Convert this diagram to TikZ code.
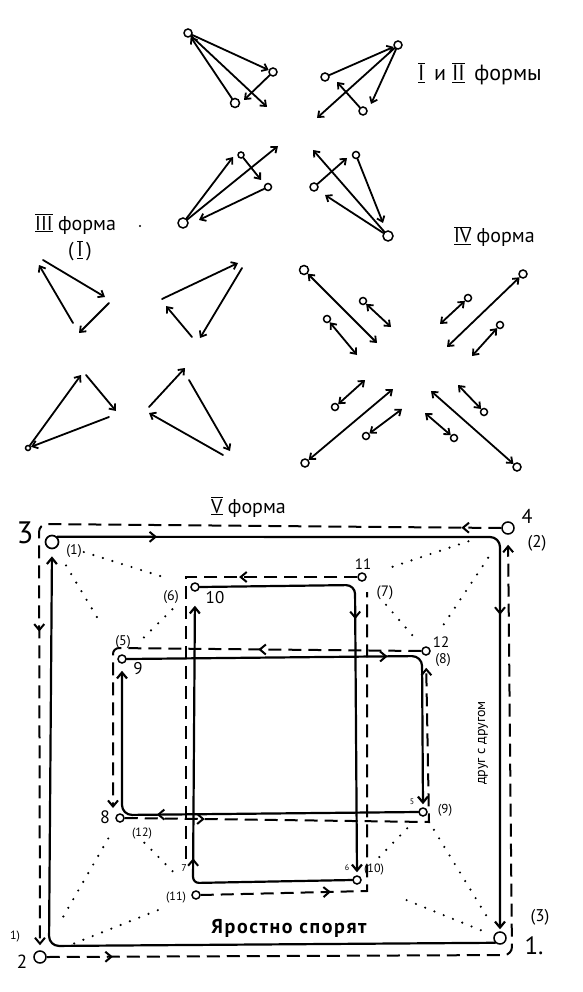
\documentclass[tikz,border=0pt]{standalone}
\usepackage{fontspec}
\setmainfont{PT Sans}
\usetikzlibrary{arrows.meta,decorations.markings}
\newcommand{\fs}[1]{\fontsize{#1}{#1}\selectfont}
\newcommand{\rnum}[1]{$\overline{\underline{\mbox{#1}}}$}
\begin{document}
\begin{tikzpicture}[x=1pt,y=-1pt,
  >={Straight Barb[length=5pt,width=8pt]},
  ta/.style={line width=1.8pt,line cap=round,line join=round},
  sl/.style={line width=2.2pt,line cap=round,line join=round,>={Straight Barb[length=6pt,width=10pt]}},
  dl/.style={line width=2pt,dash pattern=on 13pt off 7pt,>={Straight Barb[length=6pt,width=10pt]}},
  dotl/.style={line width=2.4pt,line cap=round,dash pattern=on 0pt off 10pt},
  pc/.style={circle,draw,line width=1.5pt,inner sep=0pt,minimum size=#1,fill=white},
  pc/.default=8pt,
  midarr/.style={postaction={decorate,decoration={markings,mark=at position #1 with {\arrow[line width=2pt]{Straight Barb[length=6pt,width=10pt]}}}}},
  lab/.style={inner sep=0pt}
]
\useasboundingbox (0,0) rectangle (582,992);

% ---------- Forms I and II ----------
\node[pc=8pt] (fA) at (188,33) {};
\node[pc=8pt] (fB) at (273,72) {};
\node[pc=9pt] (fC) at (235,103) {};
\node[pc=8pt] (fD) at (325,77) {};
\node[pc=8pt] (fE) at (398,45) {};
\node[pc=8pt] (fF) at (363,111) {};
\coordinate (a1) at (267,107);
\coordinate (a2) at (244,100);
\coordinate (a3) at (317,118);
\coordinate (a4) at (371,104);
\coordinate (a5) at (337,82);
\draw[ta,->] (fA) -- (fB);
\draw[ta,->] (fA) -- (a1);
\draw[ta,->] (fC) -- (fA);
\draw[ta,->] (fB) -- (a2);
\draw[ta,->] (fD) -- (fE);
\draw[ta,->] (fE) -- (a3);
\draw[ta,->] (fE) -- (a4);
\draw[ta,->] (fF) -- (a5);

\node[pc=10pt] (fG) at (183,223) {};
\node[pc=6pt] (fH) at (241,155) {};
\node[pc=7pt] (fJ) at (268,187) {};
\node[pc=8pt] (fK) at (314,187) {};
\node[pc=7pt] (fL) at (356,155) {};
\node[pc=10pt] (fM) at (388,236) {};
\coordinate (b1) at (233,157);
\coordinate (b2) at (278,146);
\coordinate (b3) at (199,220);
\coordinate (b4) at (347,158);
\coordinate (b5) at (313,150);
\coordinate (b6) at (383,223);
\coordinate (b7) at (325,195);
\coordinate (b8) at (261,180);
\draw[ta,->] (fG) -- (b1);
\draw[ta,->] (fG) -- (b2);
\draw[ta,->] (fJ) -- (b3);
\draw[ta,->] (fH) -- (b8);
\draw[ta,->] (fK) -- (b4);
\draw[ta,->] (fM) -- (b5);
\draw[ta,->] (fL) -- (b6);
\draw[ta,->] (fM) -- (b7);

\node[lab,anchor=west] (t12) at (418,74) {\fs{22}\rnum{I}\, и \rnum{II}\, формы};

% ---------- Form III ----------
\node[lab,anchor=west] (t3) at (35,224) {\fs{20}\rnum{III} форма};
\node[lab] (t3b) at (80,251) {\fs{20}(\,\rnum{I}\,)};
\fill (140,226) circle (1.2pt);

\draw[ta,->] (43,260) -- (105,297);
\draw[ta,->] (109,303) -- (79,333);
\draw[ta,->] (73,323) -- (39,265);

\draw[ta,->] (162,299) -- (238,263);
\draw[ta,->] (242,268) -- (200,338);
\draw[ta,->] (192,337) -- (166,306);

\node[pc=5pt] (q1) at (28,448) {};
\draw[ta,->] (q1) -- (81,375);
\draw[ta,->] (86,375) -- (116,411);
\draw[ta,->] (109,417) -- (q1);

\draw[ta,->] (149,407) -- (185,368);
\draw[ta,->] (189,380) -- (230,451);
\draw[ta,->] (223,455) -- (149,413);

% ---------- Form IV ----------
\node[lab,anchor=west] (t4) at (454,237) {\fs{20}\rnum{IV} форма};

\node[pc=9pt] (p1) at (304,270) {};
\draw[ta,<->] (p1) -- (377,343);
\node[pc=7pt] (p2) at (363,301) {};
\draw[ta,<->] (p2) -- (391,327);
\node[pc=7pt] (p3) at (327,319) {};
\draw[ta,<->] (p3) -- (357,355);

\node[pc=8pt] (p4) at (523,274) {};
\draw[ta,<->] (p4) -- (447,347);
\node[pc=7pt] (p5) at (468,298) {};
\draw[ta,<->] (p5) -- (440,324);
\node[pc=7pt] (p6) at (500,325) {};
\draw[ta,<->] (p6) -- (472,356);

\node[pc=8pt] (p7) at (305,463) {};
\draw[ta,<->] (p7) -- (393,389);
\node[pc=7pt] (p8) at (335,407) {};
\draw[ta,<->] (p8) -- (365,380);
\node[pc=7pt] (p9) at (366,436) {};
\draw[ta,<->] (p9) -- (402,409);

\node[pc=8pt] (p10) at (517,467) {};
\draw[ta,<->] (p10) -- (431,391);
\node[pc=7pt] (p11) at (484,412) {};
\draw[ta,<->] (p11) -- (458,385);
\node[pc=7pt] (p12) at (454,438) {};
\draw[ta,<->] (p12) -- (425,413);

% ---------- Form V ----------
\node[lab,anchor=west] (t5) at (211,507) {\fs{20}\rnum{V} форма};

\node[pc=13pt,line width=1.7pt] (v3) at (52,542) {};
\node[pc=12pt] (v4) at (508,528) {};
\node[pc=12pt] (v1) at (500,938) {};
\node[pc=12pt] (v2) at (40,957) {};
\node[pc=8pt] (v10) at (195,587) {};
\node[pc=8pt] (v11) at (362,577) {};
\node[pc=8pt] (v9) at (122,659) {};
\node[pc=8pt] (v12) at (426,651) {};
\node[pc=8pt] (v8) at (120,818) {};
\node[pc=8pt] (v5) at (423,812) {};
\node[pc=8pt] (v6) at (357,880) {};
\node[pc=8pt] (v7) at (196,895) {};

% outer solid
\draw[sl,rounded corners=10pt,midarr=0.12,midarr=0.62,->,shorten >=2pt] (v3.north east) -- (500,537) -- (v1.north);
\draw[sl,rounded corners=10pt,->,shorten >=7pt] (v1.south west) -- (49,946) -- (v3.south);
% outer dashed
\draw[dl,rounded corners=8pt,midarr=0.075,->,shorten >=10pt] (v2.east) -- (512,955) -- (v4.south);
\draw[dl,rounded corners=8pt,midarr=0.045,midarr=0.64,->,shorten >=5pt] (v4.west) -- (39,524) -- (v2.north);

% middle rectangle solid
\draw[sl,rounded corners=10pt,midarr=0.59,->,shorten >=3pt] (v9.east) -- (422,656) -- (v5.north);
\draw[sl,rounded corners=10pt,midarr=0.59,->,shorten >=7pt] (v5.west) -- (122,815) -- (v9.south);
% middle rectangle dashed
\draw[dl,midarr=0.17,->,shorten >=12pt] (v8.east) -- (429,822) -- (v12.south);
\coordinate (m1) at (113,808);
\draw[dl,rounded corners=6pt,midarr=0.35,->] (v12.west) -- (113,648) -- (m1);

% inner rectangle solid
\draw[sl,rounded corners=9pt,midarr=0.42,->,shorten >=3pt] (v10.east) -- (355,585) -- (v6.north);
\draw[sl,rounded corners=6pt,midarr=0.405,->,shorten >=14pt] (v6.west) -- (193,883) -- (v10.south);
% inner rectangle dashed
\coordinate (m2) at (367,592);
\coordinate (m3) at (186,860);
\draw[dl,midarr=0.28] (v7.east) -- (367,891) -- (m2);
\draw[dl,midarr=0.26] (v11.west) -- (186,577) -- (m3);

% dotted triangles
\draw[dotl,shorten <=26pt,shorten >=28pt] (v3) -- (v10);
\draw[dotl,shorten <=20pt,shorten >=35pt] (v3) -- (v9);
\draw[dotl,shorten <=27pt,shorten >=23pt] (v10) -- (v9);
\draw[dotl,shorten <=35pt,shorten >=21pt] (v4) -- (v11);
\draw[dotl,shorten <=29pt,shorten >=26pt] (v4) -- (v12);
\draw[dotl,shorten <=32pt,shorten >=13pt] (v11) -- (v12);
\draw[dotl,shorten <=20pt,shorten >=13pt] (v1) -- (v5);
\draw[dotl,shorten <=14pt,shorten >=40pt] (v1) -- (v6);
\draw[dotl,shorten <=18pt,shorten >=21pt] (v5) -- (v6);
\draw[dotl,shorten <=40pt,shorten >=18pt] (v2) -- (v8);
\draw[dotl,shorten <=30pt,shorten >=33pt] (v2) -- (v7);
\draw[dotl,shorten <=30pt,shorten >=24pt] (v8) -- (v7);

% labels
\node[lab] (l3) at (25,533) {\fs{31}3};
\node[lab] (l3b) at (74,551) {\fs{14}(1)};
\node[lab] (l4) at (527,516) {\fs{20}4};
\node[lab] (l4b) at (537,543) {\fs{17}(2)};
\node[lab] (l1) at (534,946) {\fs{25}1.};
\node[lab] (l1b) at (540,917) {\fs{17}(3)};
\node[lab] (l2) at (22,962) {\fs{19}2};
\node[lab] (l2b) at (15,937) {\fs{12}1)};
\node[lab] (l6) at (171,597) {\fs{14}(6)};
\node[lab] (l10) at (215,598) {\fs{17}10};
\node[lab] (l11) at (363,564) {\fs{15}11};
\node[lab] (l7) at (385,593) {\fs{15}(7)};
\node[lab] (l5) at (123,642) {\fs{14}(5)};
\node[lab] (l9) at (138,669) {\fs{17}9};
\node[lab] (l12) at (441,642) {\fs{15}12};
\node[lab] (l8) at (443,660) {\fs{14}(8)};
\node[lab] (l8b) at (105,817) {\fs{18}8};
\node[lab] (l12b) at (142,834) {\fs{12}(12)};
\node[lab] (l11b) at (176,898) {\fs{12}(11)};
\node[lab] (l10b) at (374,870) {\fs{12}(10)};
\node[lab] (l9b) at (445,810) {\fs{13}(9)};
\node[lab] (s5) at (412,802) {\fs{8}5};
\node[lab] (s6) at (347,868) {\fs{8}6};
\node[lab] (s7) at (184,868) {\fs{10}7};
\node[lab] (ta) at (289,928) {\fs{20}\bfseries\addfontfeature{LetterSpace=8}Яростно спорят};
\node[lab,rotate=90] (tb) at (483,743) {\fs{14}друг с другом};
\end{tikzpicture}
\end{document}
